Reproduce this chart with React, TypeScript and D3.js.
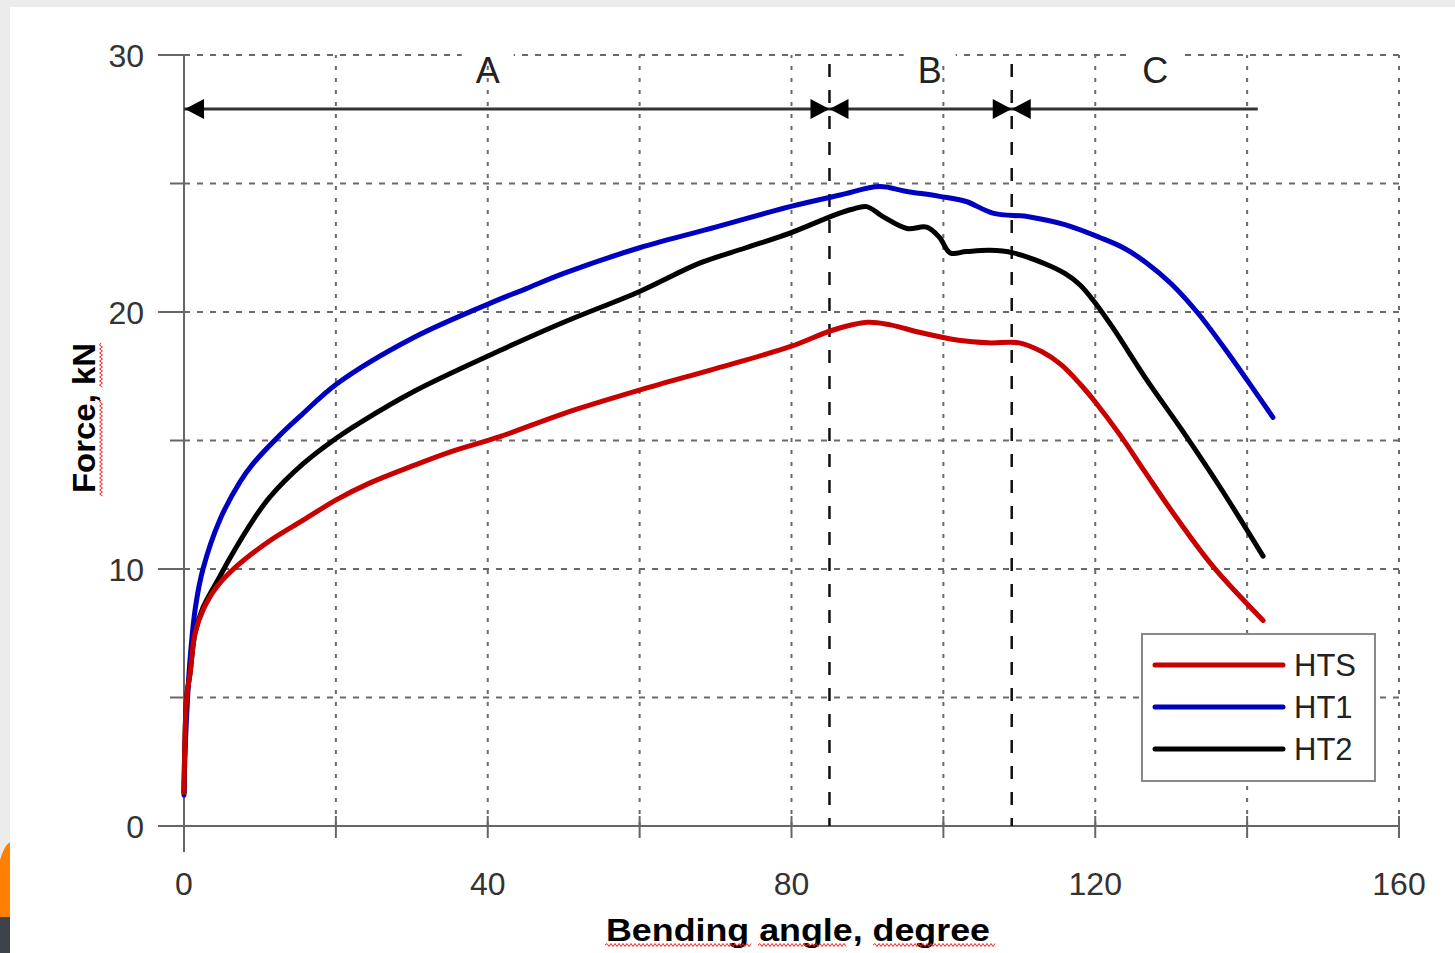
import React from "react";
import * as d3 from "d3";

const htsAngle = [0, 0.1, 0.35, 0.8, 1.45, 2.5, 4.3, 6.9, 11.3, 15.7, 20.1, 24.5, 30, 35, 41.6, 50, 60, 70, 79.8, 85.5, 90, 93, 97, 102, 106, 110, 113, 115.5, 118, 120, 123.3, 126.5, 130.2, 135.5, 142.1];
const htsForce = [1.3, 3.0, 5.0, 5.95, 7.5, 8.4, 9.3, 10.1, 11.1, 11.9, 12.7, 13.35, 14.0, 14.55, 15.15, 16.05, 16.96, 17.8, 18.65, 19.3, 19.6, 19.5, 19.2, 18.9, 18.8, 18.8, 18.45, 17.95, 17.2, 16.5, 15.2, 13.8, 12.2, 10.1, 8.0];

const ht1Angle = [0, 0.1, 0.3, 0.8, 1.5, 2.5, 4.7, 7.4, 9.1, 12.6, 15.5, 20.1, 30.2, 41.6, 45, 50, 60, 70, 79.8, 86.4, 91.6, 95, 99.5, 103, 106.5, 111.4, 116, 120.6, 123.7, 126.8, 130, 133.4, 137, 140, 143.4];
const ht1Force = [1.2, 2.5, 4.0, 6.5, 8.5, 10, 11.9, 13.4, 14.1, 15.2, 16.0, 17.2, 19.0, 20.5, 20.9, 21.5, 22.5, 23.3, 24.1, 24.55, 24.88, 24.7, 24.5, 24.3, 23.85, 23.7, 23.4, 22.9, 22.5, 21.9, 21.1, 20.0, 18.6, 17.35, 15.9];

const ht2Angle = [0, 0.1, 0.35, 0.8, 1.45, 2.5, 4.7, 6, 9.1, 11.3, 15.7, 20.1, 23.2, 30.2, 41.6, 50, 60, 67.9, 74, 79.8, 85.9, 88, 89.9, 92.1, 95.2, 97.8, 99.5, 100.9, 103, 106.1, 109.2, 113.6, 116, 118, 120, 122.4, 126.8, 131.2, 136.4, 142.1];
const ht2Force = [1.3, 3.0, 5.0, 5.95, 7.5, 8.5, 9.7, 10.4, 11.9, 12.8, 14.1, 15.1, 15.7, 16.9, 18.5, 19.6, 20.8, 21.9, 22.5, 23.07, 23.8, 24.0, 24.1, 23.7, 23.25, 23.3, 22.9, 22.3, 22.35, 22.4, 22.3, 21.85, 21.5, 21.05, 20.35, 19.35, 17.35, 15.5, 13.2, 10.5];

const xTickLabels = [0, 40, 80, 120, 160];
const xGrid = [20, 40, 60, 80, 100, 120, 140, 160];
const yTickLabels = [0, 10, 20, 30];
const yGrid = [5, 10, 15, 20, 25, 30];
const regionBounds = [0, 85, 109, 141.4];
const regionLabels = [
  { name: "A", at: 40 },
  { name: "B", at: 98.2 },
  { name: "C", at: 127.9 },
];
const arrowForce = 27.9;

const seriesNames = ["HTS", "HT1", "HT2"];
const seriesColors = ["#c80000", "#0000c0", "#000000"];

const W = 1455;
const H = 953;

export default function App() {
  const x = d3.scaleLinear().domain([0, 160]).range([184, 1399]);
  const y = d3.scaleLinear().domain([0, 30]).range([826, 55]);
  const line = d3
    .line<[number, number]>()
    .x((d) => x(d[0]))
    .y((d) => y(d[1]))
    .curve(d3.curveCatmullRom.alpha(0.5));

  const series = [
    { name: "HT1", a: ht1Angle, f: ht1Force, c: seriesColors[1] },
    { name: "HT2", a: ht2Angle, f: ht2Force, c: seriesColors[2] },
    { name: "HTS", a: htsAngle, f: htsForce, c: seriesColors[0] },
  ];

  const font = "'Liberation Sans', Arial, sans-serif";
  const ay = y(arrowForce);

  const wave = (x0: number, x1: number, yy: number) => {
    let p = `M${x0},${yy}`;
    let up = true;
    for (let xx = x0 + 2; xx <= x1; xx += 2) {
      p += ` L${xx},${yy + (up ? -1.5 : 1.5)}`;
      up = !up;
    }
    return p;
  };
  const vwave = (y0: number, y1: number, xx: number) => {
    let p = `M${xx},${y0}`;
    let up = true;
    for (let yy = y0 + 2; yy <= y1; yy += 2) {
      p += ` L${xx + (up ? -1.5 : 1.5)},${yy}`;
      up = !up;
    }
    return p;
  };

  const triRight = (tipX: number) =>
    `M${tipX},${ay} L${tipX - 19},${ay - 10} L${tipX - 19},${ay + 10} Z`;
  const triLeft = (tipX: number) =>
    `M${tipX},${ay} L${tipX + 19},${ay - 10} L${tipX + 19},${ay + 10} Z`;

  return (
    <svg
      width={W}
      height={H}
      style={{ position: "absolute", left: 0, top: 0 }}
      fontFamily={font}
    >
      <rect x={0} y={0} width={W} height={H} fill="#ececec" />
      <rect x={10} y={7} width={W - 10} height={H - 7} fill="#ffffff" />
      <path d="M0,860 Q4,846 10,842 L10,917 L0,917 Z" fill="#ff8000" />
      <rect x={0} y={917} width={10} height={36} fill="#3c4247" />

      {/* grid */}
      {yGrid.map((v) => (
        <line
          key={"yg" + v}
          x1={x(0)}
          x2={x(160)}
          y1={y(v)}
          y2={y(v)}
          stroke="#6a6a6a"
          strokeWidth={2}
          strokeDasharray="6,7"
        />
      ))}
      {xGrid.map((v) => (
        <line
          key={"xg" + v}
          x1={x(v)}
          x2={x(v)}
          y1={y(0)}
          y2={y(30)}
          stroke="#6a6a6a"
          strokeWidth={2}
          strokeDasharray="4,8"
        />
      ))}

      {/* axes */}
      <line x1={x(0)} x2={x(0)} y1={y(30)} y2={852} stroke="#666" strokeWidth={2} />
      <line x1={158} x2={x(160)} y1={y(0)} y2={y(0)} stroke="#666" strokeWidth={2} />
      {yTickLabels.map((v) => (
        <line key={"yt" + v} x1={158} x2={x(0)} y1={y(v)} y2={y(v)} stroke="#666" strokeWidth={2} />
      ))}
      {[5, 15, 25].map((v) => (
        <line key={"ytm" + v} x1={170} x2={x(0)} y1={y(v)} y2={y(v)} stroke="#666" strokeWidth={2} />
      ))}
      {xGrid.map((v) => (
        <line key={"xt" + v} x1={x(v)} x2={x(v)} y1={816} y2={838} stroke="#666" strokeWidth={2} />
      ))}

      {/* tick labels */}
      {yTickLabels.map((v) => (
        <text
          key={"yl" + v}
          x={144}
          y={y(v)}
          dy="0.36em"
          textAnchor="end"
          fontSize={32}
          fill="#333"
        >
          {v}
        </text>
      ))}
      {xTickLabels.map((v) => (
        <text
          key={"xl" + v}
          x={x(v)}
          y={895}
          textAnchor="middle"
          fontSize={32}
          fill="#333"
        >
          {v}
        </text>
      ))}

      {/* region labels with white background */}
      {regionLabels.map((r) => (
        <g key={r.name}>
          <rect x={x(r.at) - 26} y={44} width={52} height={22} fill="#fff" />
          <text
            x={x(r.at)}
            y={y(30) + 28}
            textAnchor="middle"
            fontSize={36}
            fill="#222"
          >
            {r.name}
          </text>
        </g>
      ))}

      {/* region boundaries */}
      {regionBounds.slice(1, 3).map((b) => (
        <line
          key={"rb" + b}
          x1={x(b)}
          x2={x(b)}
          y1={64}
          y2={y(0)}
          stroke="#111"
          strokeWidth={2.5}
          strokeDasharray="13,13"
        />
      ))}
      <line
        x1={x(regionBounds[0])}
        x2={x(regionBounds[3])}
        y1={ay}
        y2={ay}
        stroke="#333"
        strokeWidth={3}
      />
      <path d={triLeft(x(regionBounds[0]) + 1)} fill="#000" />
      <path d={triRight(x(regionBounds[1]))} fill="#000" />
      <path d={triLeft(x(regionBounds[1]))} fill="#000" />
      <path d={triRight(x(regionBounds[2]))} fill="#000" />
      <path d={triLeft(x(regionBounds[2]))} fill="#000" />

      {/* series */}
      {series.map((s) => (
        <path
          key={s.name}
          d={line(s.a.map((a, i) => [a, s.f[i]] as [number, number])) || ""}
          fill="none"
          stroke={s.c}
          strokeWidth={5}
          strokeLinecap="round"
          strokeLinejoin="round"
        />
      ))}

      {/* legend */}
      <rect x={1142} y={634} width={233} height={147} fill="#fff" stroke="#888" strokeWidth={2} />
      {seriesNames.map((n, i) => (
        <g key={"lg" + n}>
          <line
            x1={1155}
            x2={1283}
            y1={665 + i * 42}
            y2={665 + i * 42}
            stroke={seriesColors[i]}
            strokeWidth={5}
            strokeLinecap="round"
          />
          <text x={1294} y={665 + i * 42} dy="0.36em" fontSize={31} fill="#222">
            {n}
          </text>
        </g>
      ))}

      {/* axis titles */}
      <text
        x={798}
        y={941}
        textAnchor="middle"
        fontSize={31}
        fontWeight="bold"
        fill="#000"
        textLength={384}
        lengthAdjust="spacingAndGlyphs"
      >
        Bending angle, degree
      </text>
      <path d={wave(605, 752, 945)} stroke="#ff2020" strokeWidth={1} fill="none" />
      <path d={wave(758, 847, 945)} stroke="#ff2020" strokeWidth={1} fill="none" />
      <path d={wave(873, 995, 945)} stroke="#ff2020" strokeWidth={1} fill="none" />

      <text
        transform={`translate(95,418) rotate(-90)`}
        textAnchor="middle"
        fontSize={31}
        fontWeight="bold"
        fill="#000"
        textLength={150}
        lengthAdjust="spacingAndGlyphs"
      >
        Force, kN
      </text>
      <path d={vwave(343, 387, 101)} stroke="#ff2020" strokeWidth={1} fill="none" />
      <path d={vwave(400, 497, 101)} stroke="#ff2020" strokeWidth={1} fill="none" />
    </svg>
  );
}
